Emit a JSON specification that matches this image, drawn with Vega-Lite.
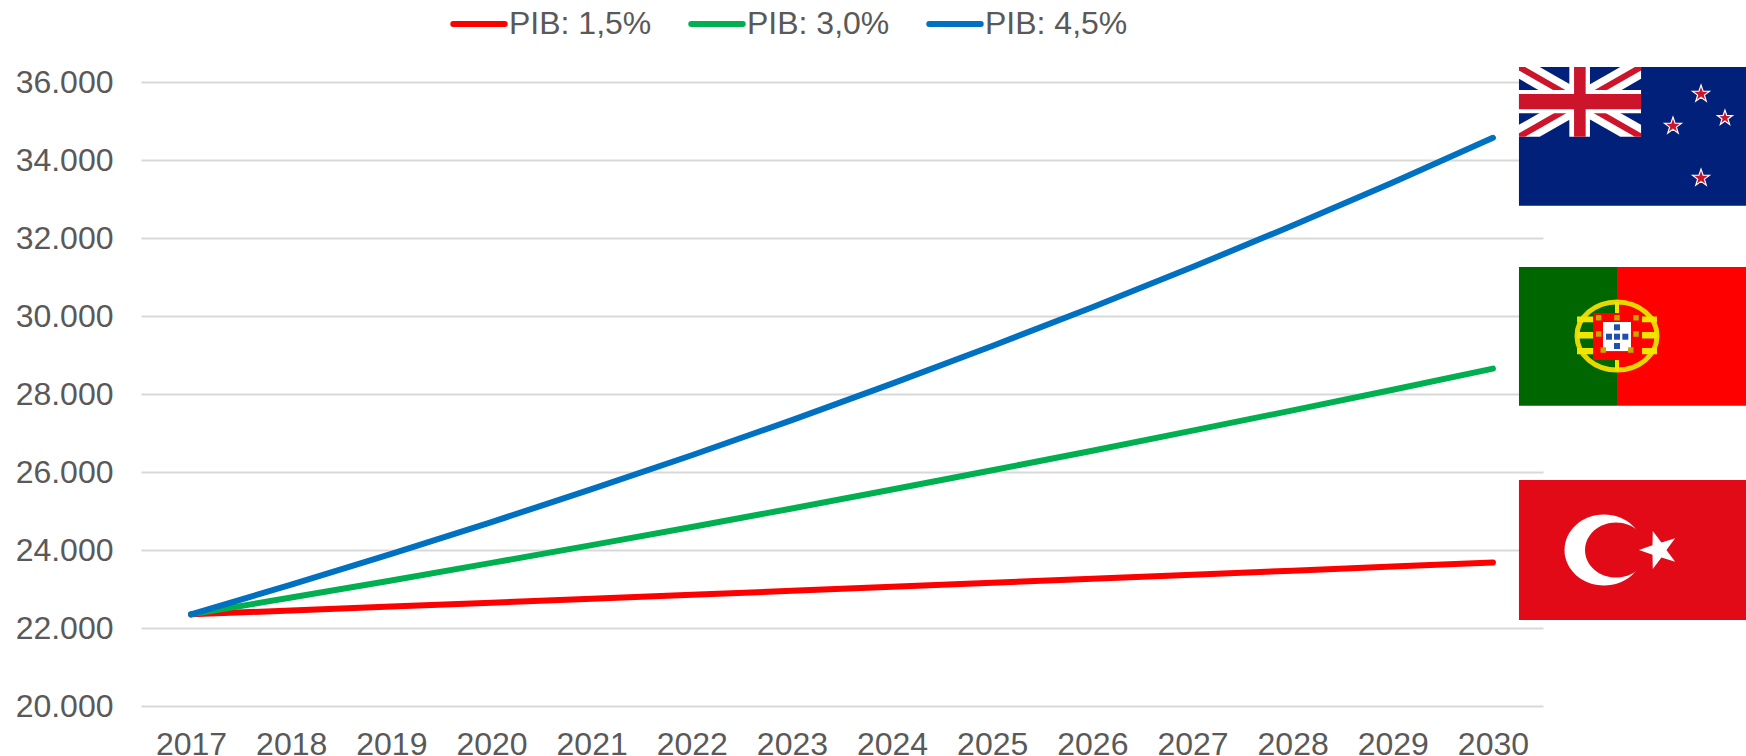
{"$schema":"https://vega.github.io/schema/vega-lite/v6.json","width":1402,"height":624,"autosize":{"type":"none"},"padding":{"left":141,"top":82,"right":203,"bottom":50},"background":"white","config":{"view":{"stroke":null},"font":"Liberation Sans"},
"datasets":{
"lines":[
{"series":"PIB: 1,5%","year":2017,"value":22350},{"series":"PIB: 1,5%","year":2018,"value":22450},{"series":"PIB: 1,5%","year":2019,"value":22550},{"series":"PIB: 1,5%","year":2020,"value":22650},{"series":"PIB: 1,5%","year":2021,"value":22750},{"series":"PIB: 1,5%","year":2022,"value":22850},{"series":"PIB: 1,5%","year":2023,"value":22955},{"series":"PIB: 1,5%","year":2024,"value":23055},{"series":"PIB: 1,5%","year":2025,"value":23160},{"series":"PIB: 1,5%","year":2026,"value":23260},{"series":"PIB: 1,5%","year":2027,"value":23365},{"series":"PIB: 1,5%","year":2028,"value":23470},{"series":"PIB: 1,5%","year":2029,"value":23575},{"series":"PIB: 1,5%","year":2030,"value":23680},
{"series":"PIB: 3,0%","year":2017,"value":22350},{"series":"PIB: 3,0%","year":2018,"value":22780},{"series":"PIB: 3,0%","year":2019,"value":23220},{"series":"PIB: 3,0%","year":2020,"value":23670},{"series":"PIB: 3,0%","year":2021,"value":24125},{"series":"PIB: 3,0%","year":2022,"value":24590},{"series":"PIB: 3,0%","year":2023,"value":25065},{"series":"PIB: 3,0%","year":2024,"value":25550},{"series":"PIB: 3,0%","year":2025,"value":26045},{"series":"PIB: 3,0%","year":2026,"value":26545},{"series":"PIB: 3,0%","year":2027,"value":27060},{"series":"PIB: 3,0%","year":2028,"value":27580},{"series":"PIB: 3,0%","year":2029,"value":28110},{"series":"PIB: 3,0%","year":2030,"value":28650},
{"series":"PIB: 4,5%","year":2017,"value":22350},{"series":"PIB: 4,5%","year":2018,"value":23110},{"series":"PIB: 4,5%","year":2019,"value":23900},{"series":"PIB: 4,5%","year":2020,"value":24715},{"series":"PIB: 4,5%","year":2021,"value":25560},{"series":"PIB: 4,5%","year":2022,"value":26430},{"series":"PIB: 4,5%","year":2023,"value":27330},{"series":"PIB: 4,5%","year":2024,"value":28265},{"series":"PIB: 4,5%","year":2025,"value":29230},{"series":"PIB: 4,5%","year":2026,"value":30225},{"series":"PIB: 4,5%","year":2027,"value":31255},{"series":"PIB: 4,5%","year":2028,"value":32320},{"series":"PIB: 4,5%","year":2029,"value":33425},{"series":"PIB: 4,5%","year":2030,"value":34570}],
"flagBack":[
{"part":"nzBlue","year":2030.26,"year2":2032.527,"value":36385,"value2":32828},
{"part":"ptGreen","year":2030.26,"year2":2031.239,"value":31256,"value2":27700},
{"part":"ptRed","year":2031.239,"year2":2032.527,"value":31256,"value2":27700},
{"part":"trRed","year":2030.26,"year2":2032.527,"value":25795,"value2":22205}],
"diagonals":[
{"band":"w1","part":"white","year":2030.26,"value":36385,"value2":36081},{"band":"w1","part":"white","year":2030.467,"value":36385,"value2":35777},{"band":"w1","part":"white","year":2031.272,"value":35205,"value2":34597},{"band":"w1","part":"white","year":2031.479,"value":34901,"value2":34597},
{"band":"w2","part":"white","year":2030.26,"value":34901,"value2":34597},{"band":"w2","part":"white","year":2030.467,"value":35205,"value2":34597},{"band":"w2","part":"white","year":2031.272,"value":36385,"value2":35777},{"band":"w2","part":"white","year":2031.479,"value":36385,"value2":36081},
{"band":"r1","part":"red","year":2030.26,"value":36385,"value2":36295},{"band":"r1","part":"red","year":2030.321,"value":36385,"value2":36206},{"band":"r1","part":"red","year":2031.418,"value":34776,"value2":34597},{"band":"r1","part":"red","year":2031.479,"value":34687,"value2":34597},
{"band":"r2","part":"red","year":2030.26,"value":34687,"value2":34597},{"band":"r2","part":"red","year":2030.321,"value":34776,"value2":34597},{"band":"r2","part":"red","year":2031.418,"value":36385,"value2":36206},{"band":"r2","part":"red","year":2031.479,"value":36385,"value2":36295}],
"flagFront":[
{"part":"white","year":2030.26,"year2":2031.479,"value":35795,"value2":35197},
{"part":"white","year":2030.763,"year2":2030.969,"value":36385,"value2":34597},
{"part":"nzRed","year":2030.26,"year2":2031.479,"value":35692,"value2":35300},
{"part":"nzRed","year":2030.81,"year2":2030.926,"value":36385,"value2":34597},
{"part":"yellow","year":2030.84,"year2":2031.638,"value":29990,"value2":29840},
{"part":"yellow","year":2030.84,"year2":2031.638,"value":29590,"value2":29420},
{"part":"yellow","year":2030.84,"year2":2031.638,"value":29180,"value2":29020},
{"part":"yellow","year":2031.219,"year2":2031.259,"value":30359,"value2":28590},
{"part":"ptRed","year":2031.0,"year2":2031.489,"value":30077,"value2":28872},
{"part":"white","year":2031.099,"year2":2031.379,"value":29846,"value2":29100}],
"stars":[{"year":2032.078,"value":35692},{"year":2031.798,"value":34872},{"year":2032.078,"value":33538}],
"smallStars":[{"year":2032.317,"value":35077}],
"ring":[{"year":2031.239,"value":29487}],
"castles":[{"year":2031.056,"value":29956},{"year":2031.239,"value":29956},{"year":2031.429,"value":29956},{"year":2031.056,"value":29538},{"year":2031.429,"value":29538},{"year":2031.102,"value":29128},{"year":2031.376,"value":29128}],
"shields":[{"year":2031.239,"value":29710},{"year":2031.159,"value":29469},{"year":2031.239,"value":29469},{"year":2031.322,"value":29469},{"year":2031.239,"value":29231}],
"crescentOuter":[{"year":2031.109,"value":24000}],
"crescentInner":[{"year":2031.229,"value":24000}],
"trStar":[{"year":2031.658,"value":24000}]
},
"encoding":{
"x":{"field":"year","type":"quantitative","title":null,"scale":{"domain":[2016.5,2030.5],"nice":false,"zero":false},"axis":{"values":[2017,2018,2019,2020,2021,2022,2023,2024,2025,2026,2027,2028,2029,2030],"format":"d","domain":false,"ticks":false,"grid":false,"labelFont":"Liberation Sans","labelFontSize":32,"labelColor":"#595959","labelPadding":23,"labelOverlap":false,"labelFlush":false}},
"y":{"field":"value","type":"quantitative","title":null,"scale":{"domain":[20000,36000],"nice":false,"zero":false},"axis":{"values":[20000,22000,24000,26000,28000,30000,32000,34000,36000],"labelExpr":"replace(format(datum.value,','),',','.')","domain":false,"ticks":false,"grid":true,"gridColor":"#d9d9d9","gridWidth":2,"labelFont":"Liberation Sans","labelFontSize":32,"labelColor":"#595959","labelPadding":28,"labelOverlap":false}}
},
"resolve":{"scale":{"color":"independent"}},
"layer":[
{"data":{"name":"lines"},"mark":{"type":"line","strokeWidth":6,"strokeCap":"round","strokeJoin":"round"},"encoding":{"color":{"field":"series","type":"nominal","scale":{"domain":["PIB: 1,5%","PIB: 3,0%","PIB: 4,5%"],"range":["#ff0000","#00b050","#0070c0"]},"legend":{"title":null,"orient":"none","direction":"horizontal","columns":3,"legendX":309,"legendY":-87,"symbolType":"stroke","symbolSize":2650,"symbolStrokeWidth":6,"labelFont":"Liberation Sans","labelFontSize":32,"labelColor":"#595959","labelOffset":1,"columnPadding":27,"encode":{"symbols":{"update":{"strokeCap":{"value":"round"}}}}}}}},
{"data":{"name":"flagBack"},"mark":{"type":"rect"},"encoding":{"x2":{"field":"year2"},"y2":{"field":"value2"},"color":{"field":"part","type":"nominal","legend":null,"scale":{"domain":["nzBlue","ptGreen","ptRed","trRed"],"range":["#01207a","#006600","#ff0000","#e30a17"]}}}},
{"data":{"name":"diagonals"},"mark":{"type":"area","opacity":1},"encoding":{"y2":{"field":"value2"},"detail":{"field":"band"},"color":{"field":"part","type":"nominal","legend":null,"scale":{"domain":["white","red"],"range":["#ffffff","#cc142b"]}}}},
{"data":{"name":"ring"},"mark":{"type":"point","shape":"M-1,0A1,0.85 0 1 1 1,0A1,0.85 0 1 1 -1,0Z","size":6400,"filled":false,"stroke":"#e6d800","strokeWidth":5,"opacity":1}},
{"data":{"name":"flagFront"},"mark":{"type":"rect"},"encoding":{"x2":{"field":"year2"},"y2":{"field":"value2"},"color":{"field":"part","type":"nominal","legend":null,"scale":{"domain":["white","nzRed","yellow","ptRed"],"range":["#ffffff","#cc142b","#f2e600","#ff0000"]}}}},
{"data":{"name":"stars"},"mark":{"type":"point","shape":"M0,-1L0.235,-0.324L0.951,-0.309L0.38,0.124L0.588,0.809L0,0.375L-0.588,0.809L-0.38,0.124L-0.951,-0.309L-0.235,-0.324Z","size":320,"filled":true,"fill":"#cc142b","stroke":"#ffffff","strokeWidth":1.2,"opacity":1}},
{"data":{"name":"smallStars"},"mark":{"type":"point","shape":"M0,-1L0.235,-0.324L0.951,-0.309L0.38,0.124L0.588,0.809L0,0.375L-0.588,0.809L-0.38,0.124L-0.951,-0.309L-0.235,-0.324Z","size":250,"filled":true,"fill":"#cc142b","stroke":"#ffffff","strokeWidth":1.2,"opacity":1}},
{"data":{"name":"castles"},"mark":{"type":"point","shape":"square","size":30,"filled":true,"fill":"#c8a800","opacity":1}},
{"data":{"name":"shields"},"mark":{"type":"point","shape":"square","size":36,"filled":true,"fill":"#1f4fb0","opacity":1}},
{"data":{"name":"crescentOuter"},"mark":{"type":"point","shape":"M-1,0A1,0.9 0 1 1 1,0A1,0.9 0 1 1 -1,0Z","size":6240,"filled":true,"fill":"#ffffff","opacity":1}},
{"data":{"name":"crescentInner"},"mark":{"type":"point","shape":"M-1,0A1,0.89 0 1 1 1,0A1,0.89 0 1 1 -1,0Z","size":3844,"filled":true,"fill":"#e30a17","opacity":1}},
{"data":{"name":"trStar"},"mark":{"type":"point","shape":"M0,-1L0.235,-0.324L0.951,-0.309L0.38,0.124L0.588,0.809L0,0.375L-0.588,0.809L-0.38,0.124L-0.951,-0.309L-0.235,-0.324Z","size":1600,"angle":-90,"filled":true,"fill":"#ffffff","opacity":1}}
]}
